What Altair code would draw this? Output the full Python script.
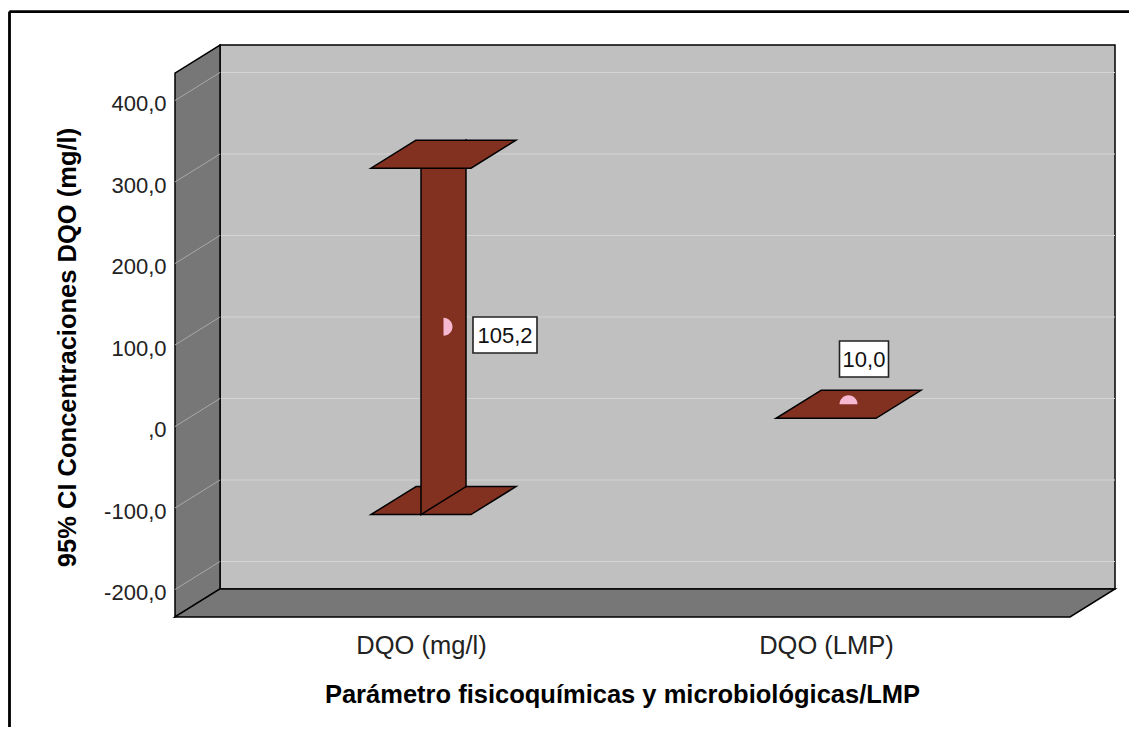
import altair as alt
import pandas as pd

# ---- data ----
categories = ["DQO (mg/l)", "DQO (LMP)"]
means = [105.2, 10.0]
ci_low = [-108.0, 10.0]
ci_high = [317.0, 10.0]
mean_labels = ["105,2", "10,0"]
y_ticks = [-200, -100, 0, 100, 200, 300, 400]
y_tick_labels = ["-200,0", "-100,0", ",0", "100,0", "200,0", "300,0", "400,0"]
x_title = "Parámetro fisicoquímicas y microbiológicas/LMP"
y_title = "95% CI Concentraciones DQO (mg/l)"

# ---- layout / 3D styling constants ----
W, H = 1121, 719
X_DOMAIN = [-1.01975, 1.74815]
Y_DOMAIN = [-368.7, 513.5]
BX0, BX1 = -0.6074, 1.6025     # front left / right of the box (category units)
BY0, BY1 = -233.7, 433.7       # front bottom / top of the box (value units)
DX, DY = 0.1111, 34.36         # depth offset
HW = 50 / 405                  # half width of caps
FONT = "Liberation Sans"
BROWN = "#823120"
WALL_DARK = "#777777"
WALL_LIGHT = "#C0C0C0"
GRID = "#D4D4D4"

xs = alt.Scale(domain=X_DOMAIN, nice=False, zero=False)
ys = alt.Scale(domain=Y_DOMAIN, nice=False, zero=False)

tick_list = ",".join(str(v) for v in y_ticks)
lab_list = ",".join("'" + s + "'" for s in y_tick_labels)
cat_idx = ",".join(str(i) for i in range(len(categories)))
cat_list = ",".join("'" + s + "'" for s in categories)

y_axis = alt.Axis(
    values=y_ticks, labelExpr=f"[{lab_list}][indexof([{tick_list}], datum.value)]",
    offset=-167, domain=False, ticks=False, tickSize=0, grid=False,
    labelPadding=9, labelFontSize=22, labelFont=FONT, labelColor="#222222",
    labelOffset=3, labelOverlap=False,
    title=y_title, titleFont=FONT, titleFontSize=25.5, titleFontWeight="bold",
    titleColor="#000000", titleX=-108, titleY=339, titleAngle=270,
    titleAlign="center", titleBaseline="middle",
)
x_axis = alt.Axis(
    values=list(range(len(categories))),
    labelExpr=f"[{cat_list}][indexof([{cat_idx}], datum.value)]",
    offset=-110, domain=False, ticks=False, tickSize=0, grid=False,
    labelPadding=28, labelBaseline="middle", labelFontSize=25.5, labelFont=FONT,
    labelColor="#222222", labelOverlap=False, labelFlush=False,
    title=x_title, titleFont=FONT, titleFontSize=25.5, titleFontWeight="bold",
    titleColor="#000000", titleX=614, titleY=77, titleAlign="center",
    titleBaseline="middle",
)


def X(f):
    return alt.X(f, type="quantitative", scale=xs, axis=x_axis)


def Y(f):
    return alt.Y(f, type="quantitative", scale=ys, axis=y_axis)


# ---- walls ----
back_df = pd.DataFrame([{"x": BX0 + DX, "x2": BX1 + DX, "y": BY0 + DY, "y2": BY1 + DY}])
back = alt.Chart(back_df).mark_rect(fill=WALL_LIGHT, stroke="black", strokeWidth=1.5).encode(
    x=X("x"), x2="x2", y=Y("y"), y2="y2")

grid_back_df = pd.DataFrame([{"x": BX0 + DX, "x2": BX1 + DX, "y": v + DY} for v in y_ticks])
grid_back = alt.Chart(grid_back_df).mark_rule(color=GRID, strokeWidth=1.2).encode(
    x=X("x"), x2="x2", y=Y("y"))

left_df = pd.DataFrame([
    {"x": BX0, "y": BY1, "y2": BY0},
    {"x": BX0 + DX, "y": BY1 + DY, "y2": BY0 + DY},
])
left = alt.Chart(left_df).mark_area(fill=WALL_DARK, stroke="black", strokeWidth=1.5,
                                    orient="vertical").encode(
    x=X("x"), y=Y("y"), y2="y2")

grid_side_df = pd.DataFrame([{"x": BX0, "x2": BX0 + DX, "y": v, "y2": v + DY} for v in y_ticks])
grid_side = alt.Chart(grid_side_df).mark_rule(color="#A8A8A8", strokeWidth=1).encode(
    x=X("x"), x2="x2", y=Y("y"), y2="y2")

floor_df = pd.DataFrame([
    {"y": BY0, "x": BX0, "x2": BX1},
    {"y": BY0 + DY, "x": BX0 + DX, "x2": BX1 + DX},
])
floor = alt.Chart(floor_df).mark_area(fill=WALL_DARK, stroke="black", strokeWidth=1.5,
                                      orient="horizontal").encode(
    y=Y("y"), x=X("x"), x2="x2")

# ---- error bars ----
def cap_rows(level_list, only_range):
    rows = []
    for i, v in enumerate(level_list):
        if only_range and ci_low[i] == ci_high[i]:
            continue
        rows.append({"id": i, "y": v, "x": i - HW, "x2": i + HW})
        rows.append({"id": i, "y": v + DY, "x": i - HW + DX, "x2": i + HW + DX})
    return pd.DataFrame(rows)


def cap_layer(df):
    return alt.Chart(df).mark_area(fill=BROWN, stroke="black", strokeWidth=1.5,
                                   orient="horizontal").encode(
        y=Y("y"), x=X("x"), x2="x2", detail="id:N")


low_caps = cap_layer(cap_rows(ci_low, True))
high_caps = cap_layer(cap_rows(ci_high, False))

bar_rows = []
for i in range(len(categories)):
    if ci_low[i] == ci_high[i]:
        continue
    bar_rows.append({"id": i, "x": i, "y": ci_high[i], "y2": ci_low[i]})
    bar_rows.append({"id": i, "x": i + DX, "y": ci_high[i] + DY, "y2": ci_low[i] + DY})
bars = alt.Chart(pd.DataFrame(bar_rows)).mark_area(
    fill=BROWN, stroke="black", strokeWidth=1.5, orient="vertical").encode(
    x=X("x"), y=Y("y"), y2="y2", detail="id:N")

# ---- means ----
pts_df = pd.DataFrame({
    "cat": categories,
    "x": [i + DX / 2 for i in range(len(categories))],
    "y": [m + DY / 2 for m in means],
    "label": mean_labels,
})
RIGHT_HALF = "M0,-1 A1,1 0 0 1 0,1 Z"
TOP_HALF = "M-1,0 A1,1 0 0 1 1,0 Z"
pink = "#F7B8D2"

pt1 = alt.Chart(pts_df).transform_filter(alt.datum.cat == categories[0]).mark_point(
    shape=RIGHT_HALF, size=324, filled=True, color=pink, opacity=1, strokeWidth=0).encode(
    x=X("x"), y=Y("y"))
pt2 = alt.Chart(pts_df).transform_filter(alt.datum.cat == categories[1]).mark_point(
    shape=TOP_HALF, size=324, filled=True, color=pink, opacity=1, strokeWidth=0).encode(
    x=X("x"), y=Y("y"))


def label_layers(cat, dx, dy, box_w, box_h):
    r = box_w / 2
    hy = box_h / box_w
    path = f"M-1,-{hy:.4f} L1,-{hy:.4f} L1,{hy:.4f} L-1,{hy:.4f} Z"
    base = alt.Chart(pts_df).transform_filter(alt.datum.cat == cat)
    box = base.mark_point(shape=path, size=(2 * r) ** 2, filled=True, fill="white",
                          stroke="#222222", strokeWidth=1.6, opacity=1,
                          xOffset=dx, yOffset=dy).encode(x=X("x"), y=Y("y"))
    txt = base.mark_text(font=FONT, fontSize=22, color="#111111", align="center",
                         baseline="middle", dx=dx, dy=dy + 1).encode(
        x=X("x"), y=Y("y"), text="label:N")
    return [box, txt]


labs = label_layers(categories[0], 61.5, 8.2, 64, 36) + \
    label_layers(categories[1], 15.5, -45.3, 49, 36)

# ---- outer frame (partially visible, as in the reference) ----
frame_l = alt.Chart(pts_df).mark_rule(color="black", strokeWidth=2.4).encode(
    x=alt.value(1.5), y=alt.value(3.7), y2=alt.value(H))
frame_t = alt.Chart(pts_df).mark_rule(color="black", strokeWidth=2.4).encode(
    x=alt.value(1.5), x2=alt.value(W), y=alt.value(3.7))

chart = alt.layer(
    back, grid_back, left, grid_side, floor, low_caps, bars, high_caps,
    pt1, pt2, *labs, frame_l, frame_t,
).properties(
    width=W, height=H, autosize=alt.AutoSizeParams(type="none"), padding=0,
    background="white",
).configure_view(stroke=None)

chart.save("out.html", embed_options={"renderer": "svg", "actions": False})
